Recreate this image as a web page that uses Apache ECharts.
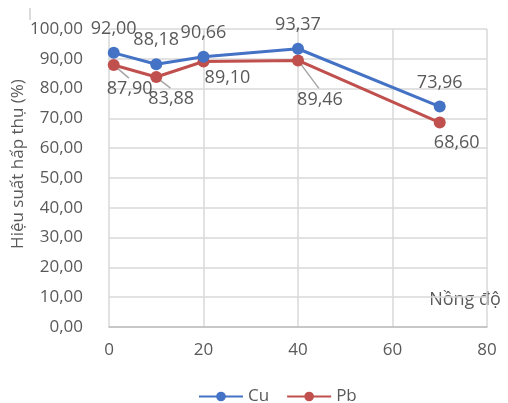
<!DOCTYPE html>
<html>
<head>
<meta charset="utf-8">
<script src="https://cdn.jsdelivr.net/npm/echarts@6/dist/echarts.min.js"></script>
<style>
  html, body { margin: 0; padding: 0; background: #fff; }
  #chart { width: 508px; height: 403px; }
</style>
</head>
<body>
<div id="chart"></div>
<script>
// Nồng độ values on the x axis
const concentrations = [1, 10, 20, 40, 70];
// Absorption efficiency (%) per metal
const cuValues = [92.00, 88.18, 90.66, 93.37, 73.96];
const pbValues = [87.90, 83.88, 89.10, 89.46, 68.60];
// Offsets of the Pb value labels from their points, and which ones get a leader line
const pbLabelOffsets = [[16, 24], [15, 22], [24, 16], [22, 39], [17, 20]];
const pbLeader = [true, true, false, true, false];

const FONT = '"Open Sans", "Noto Sans", sans-serif';
const TEXT = '#595959';
const GRID = '#D9D9D9';
const BLUE = '#4472C4';
const RED = '#C0504D';

const fmt = v => v.toFixed(2).replace('.', ',');

const chart = echarts.init(document.getElementById('chart'), null, { renderer: 'canvas' });

const option = {
  animation: false,
  backgroundColor: '#fff',
  textStyle: { fontFamily: FONT, color: TEXT },
  grid: { left: 109, right: 21, top: 29, bottom: 76 },
  legend: {
    top: 388,
    left: 198,
    padding: 0,
    itemWidth: 44,
    itemHeight: 12,
    itemGap: 17,
    textStyle: { fontFamily: FONT, fontSize: 17, color: TEXT },
    data: ['Cu', 'Pb']
  },
  xAxis: {
    type: 'value',
    min: 0, max: 80, interval: 20,
    axisLine: { show: true, lineStyle: { color: '#BFBFBF', width: 1.5 } },
    axisTick: { show: false },
    splitLine: { show: true, lineStyle: { color: GRID, width: 1.5 } },
    axisLabel: { fontFamily: FONT, fontSize: 17, color: TEXT, margin: 15 }
  },
  yAxis: {
    type: 'value',
    min: 0, max: 100, interval: 10,
    axisLine: { show: false },
    axisTick: { show: false },
    splitLine: { show: true, lineStyle: { color: GRID, width: 1.5 } },
    axisLabel: { fontFamily: FONT, fontSize: 17, color: TEXT, margin: 26, formatter: fmt }
  },
  series: [
    {
      name: 'Cu',
      type: 'line',
      data: concentrations.map((x, i) => [x, cuValues[i]]),
      symbol: 'circle',
      symbolSize: 12,
      lineStyle: { color: BLUE, width: 3 },
      itemStyle: { color: BLUE },
      label: {
        show: true, position: 'top', distance: 9,
        fontFamily: FONT, fontSize: 18, color: TEXT,
        formatter: p => fmt(p.value[1])
      },
      z: 3
    },
    {
      name: 'Pb',
      type: 'line',
      data: concentrations.map((x, i) => ({
        value: [x, pbValues[i]],
        label: { offset: pbLabelOffsets[i] }
      })),
      symbol: 'circle',
      symbolSize: 12,
      lineStyle: { color: RED, width: 3 },
      itemStyle: { color: RED },
      label: {
        show: true, position: 'inside',
        fontFamily: FONT, fontSize: 18, color: TEXT,
        formatter: p => fmt(p.value[1])
      },
      z: 2
    }
  ],
  graphic: [
    {
      type: 'text',
      x: 18, y: 164,
      rotation: Math.PI / 2,
      style: {
        text: 'Hiệu suất hấp thụ (%)',
        fontFamily: FONT, fontSize: 17, fill: TEXT,
        align: 'center', verticalAlign: 'middle'
      }
    },
    {
      type: 'text',
      x: 465, y: 300,
      style: {
        text: 'Nồng độ',
        fontFamily: FONT, fontSize: 18, fill: TEXT,
        align: 'center', verticalAlign: 'middle'
      }
    },
    {
      type: 'line',
      shape: { x1: 30, y1: 8, x2: 30, y2: 20 },
      style: { stroke: '#D0D0D0', lineWidth: 1.5 }
    }
  ]
};

chart.setOption(option);

// Grey leader lines from Pb points towards their displaced labels
const leaders = [];
concentrations.forEach((x, i) => {
  if (!pbLeader[i]) return;
  const p = chart.convertToPixel({ seriesIndex: 1 }, [x, pbValues[i]]);
  const off = pbLabelOffsets[i];
  leaders.push({
    type: 'line',
    shape: { x1: p[0], y1: p[1], x2: p[0] + off[0] * 0.95, y2: p[1] + off[1] - 11 },
    style: { stroke: '#A6A6A6', lineWidth: 1.5 },
    z: 1
  });
});
chart.setOption({ graphic: option.graphic.concat(leaders) });
</script>
</body>
</html>
